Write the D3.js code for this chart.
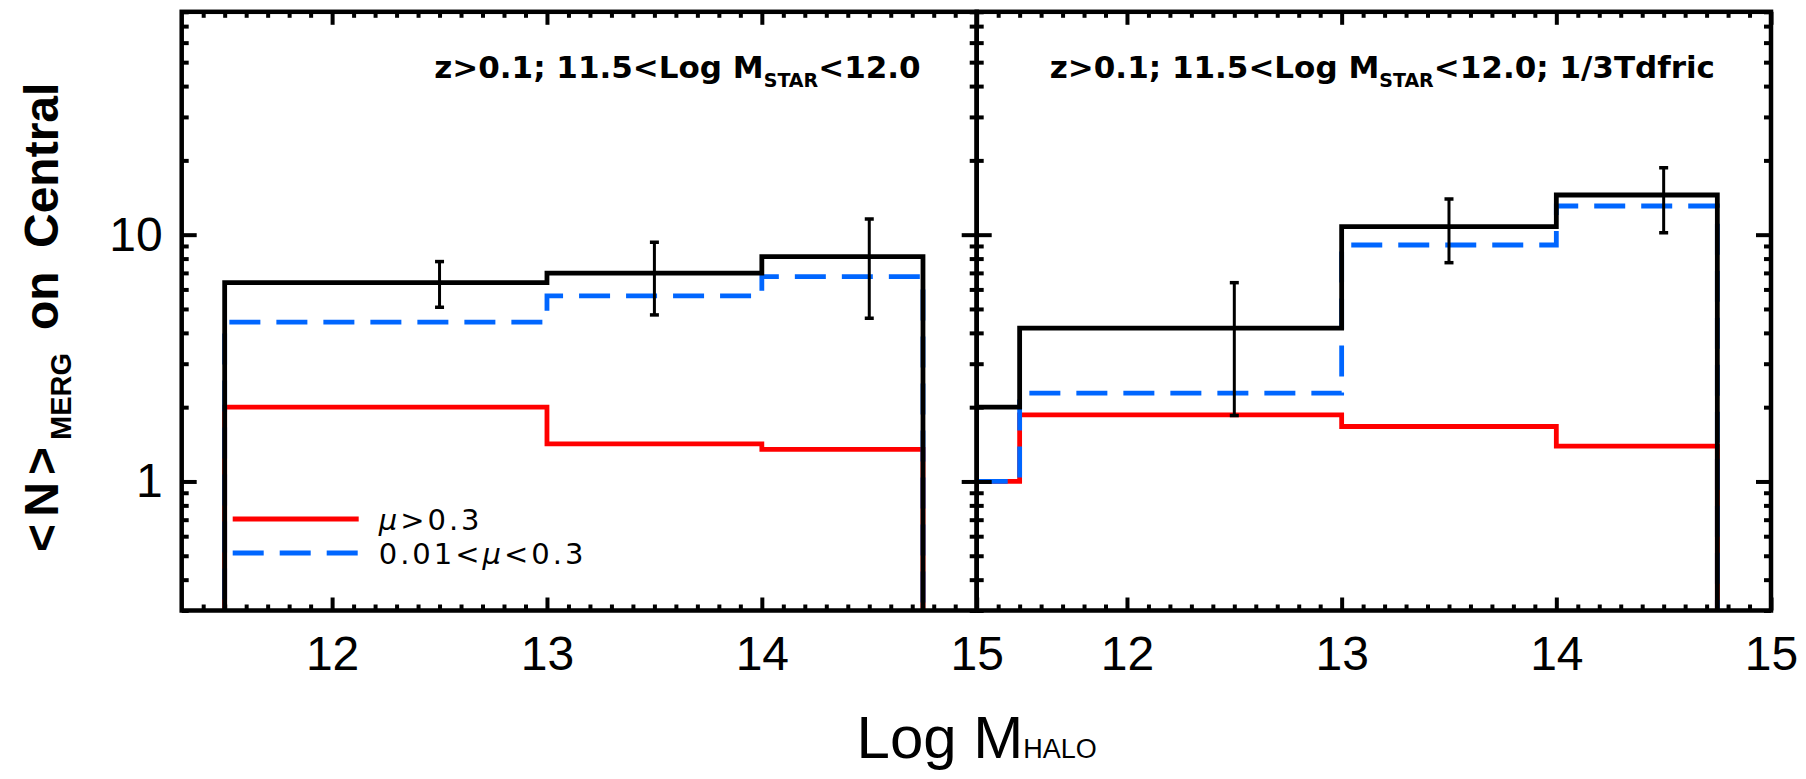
<!DOCTYPE html>
<html>
<head>
<meta charset="utf-8">
<script src="https://cdn.jsdelivr.net/npm/d3@7"></script>
<style>
  body { margin: 0; background: #fff; }
  svg { display: block; }
</style>
</head>
<body>
<svg id="chart" width="1806" height="779"></svg>
<script>
// ---- data -------------------------------------------------------------
// Bin edges in Log M_halo (the first edge is the left limit of each panel)
const binEdges = [11.3, 11.5, 13.0, 14.0, 14.75, 15.0];

// <N>_merg on central per bin; null = empty bin
const leftTotal  = [null, 6.39, 6.98, 8.15, null];
const leftMajor  = [null, 2.00, 1.42, 1.35, null];
const leftMinor  = [null, 4.42, 5.65, 6.76, null];
const rightTotal = [2.00, 4.18, 10.78, 14.48, null];
const rightMajor = [1.00, 1.86, 1.67, 1.39, null];
const rightMinor = [1.00, 2.28, 9.08, 13.07, null];

// Error bars on the total counts
const errX         = [12.5, 13.5, 14.5];
const leftErrLow   = [5.08, 4.73, 4.59];
const leftErrHigh  = [7.78, 9.31, 11.58];
const rightErrLow  = [1.85, 7.70, 10.19];
const rightErrHigh = [6.39, 13.95, 18.67];

const xTickValues = [12, 13, 14, 15];
const yTickValues = [1, 10];
const yDomain = [0.3, 80];

const titlePrefix = "z>0.1; 11.5<Log M";
const titleSub = "STAR";
const titleSuffixes = ["<12.0", "<12.0; 1/3Tdfric"];
const legendLabels = ["μ>0.3", "0.01<μ<0.3"];

// ---- layout & style -----------------------------------------------------
const SANS = "'Liberation Sans', Arial, sans-serif";
const DEJA = "'DejaVu Sans', sans-serif";
const RED = "#ff0000", BLUE = "#0066ff", BLACK = "#000";
const panelBoxes = [[181.7, 976.7], [976.7, 1771]];
const yTop = 11.8, yBot = 610.5;

const svg = d3.select("#chart");
const y = d3.scaleLog().domain(yDomain).range([yBot, yTop]);

// logarithmic minor ticks
const yMinor = [];
[0.1, 1, 10].forEach(dec => {
  for (let k = 2; k <= 9; k++) {
    const v = +(k * dec).toFixed(3);
    if (v >= yDomain[0] && v <= yDomain[1]) yMinor.push(v);
  }
});
const xMinor = d3.range(114, 150).filter(i => i % 10 !== 0).map(i => i / 10);

const panels = [
  { total: leftTotal, major: leftMajor, minor: leftMinor,
    errLow: leftErrLow, errHigh: leftErrHigh, suffix: titleSuffixes[0], yLabels: true, legend: true },
  { total: rightTotal, major: rightMajor, minor: rightMinor,
    errLow: rightErrLow, errHigh: rightErrHigh, suffix: titleSuffixes[1], yLabels: false, legend: false }
];

function stepPoints(vals) {
  const pts = [];
  vals.forEach((v, k) => {
    pts.push([binEdges[k], v]);
    pts.push([binEdges[k + 1], v]);
  });
  return pts;
}

function styleAxis(sel, labels) {
  sel.select(".domain").remove();
  sel.selectAll(".tick line").attr("stroke", BLACK).attr("stroke-width", 4);
  sel.attr("font-family", SANS).attr("font-size", 48);
  sel.selectAll(".tick text").attr("fill", BLACK);
  if (!labels) sel.selectAll(".tick text").remove();
}

panels.forEach((p, i) => {
  const [x0, x1] = panelBoxes[i];
  const x = d3.scaleLinear().domain([binEdges[0], binEdges[binEdges.length - 1]]).range([x0, x1]);
  const g = svg.append("g");

  const clipId = "plotclip" + i;
  svg.append("clipPath").attr("id", clipId)
    .append("rect").attr("x", x0).attr("y", yTop)
    .attr("width", x1 - x0).attr("height", yBot - yTop);

  const plot = g.append("g").attr("clip-path", `url(#${clipId})`);
  const below = yBot + 40;
  const line = d3.line()
    .x(d => x(d[0]))
    .y(d => d[1] == null ? below : y(d[1]));

  plot.append("path").datum(stepPoints(p.major)).attr("d", line)
    .attr("fill", "none").attr("stroke", RED).attr("stroke-width", 4.8);
  plot.append("path").datum(stepPoints(p.minor)).attr("d", line)
    .attr("fill", "none").attr("stroke", BLUE).attr("stroke-width", 4.8)
    .attr("stroke-dasharray", "31,16");
  plot.append("path").datum(stepPoints(p.total)).attr("d", line)
    .attr("fill", "none").attr("stroke", BLACK).attr("stroke-width", 4.8);

  // error bars
  const eb = plot.append("g").attr("stroke", BLACK);
  errX.forEach((xv, k) => {
    const cx = x(xv), yl = y(p.errLow[k]), yh = y(p.errHigh[k]);
    eb.append("line").attr("x1", cx).attr("x2", cx).attr("y1", yl).attr("y2", yh).attr("stroke-width", 3);
    [yl, yh].forEach(yy => eb.append("line")
      .attr("x1", cx - 4.5).attr("x2", cx + 4.5).attr("y1", yy).attr("y2", yy).attr("stroke-width", 3.5));
  });

  // axes, ticks inward on all four sides
  g.append("g").attr("transform", `translate(0,${yBot})`)
    .call(d3.axisBottom(x).tickValues(xTickValues).tickSize(-13).tickPadding(25).tickFormat(d3.format("d")))
    .call(s => styleAxis(s, true));
  g.append("g").attr("transform", `translate(0,${yBot})`)
    .call(d3.axisBottom(x).tickValues(xMinor).tickSize(-6).tickFormat(""))
    .call(s => styleAxis(s, false));
  g.append("g").attr("transform", `translate(0,${yTop})`)
    .call(d3.axisTop(x).tickValues(xTickValues).tickSize(-13))
    .call(s => styleAxis(s, false));
  g.append("g").attr("transform", `translate(0,${yTop})`)
    .call(d3.axisTop(x).tickValues(xMinor).tickSize(-6))
    .call(s => styleAxis(s, false));
  g.append("g").attr("transform", `translate(${x0},0)`)
    .call(d3.axisLeft(y).tickValues(yTickValues).tickSize(-15).tickPadding(19).tickFormat(d3.format("d")))
    .call(s => styleAxis(s, p.yLabels));
  g.append("g").attr("transform", `translate(${x0},0)`)
    .call(d3.axisLeft(y).tickValues(yMinor).tickSize(-7))
    .call(s => styleAxis(s, false));
  g.append("g").attr("transform", `translate(${x1},0)`)
    .call(d3.axisRight(y).tickValues(yTickValues).tickSize(-15))
    .call(s => styleAxis(s, false));
  g.append("g").attr("transform", `translate(${x1},0)`)
    .call(d3.axisRight(y).tickValues(yMinor).tickSize(-7))
    .call(s => styleAxis(s, false));

  g.append("rect").attr("x", x0).attr("y", yTop).attr("width", x1 - x0).attr("height", yBot - yTop)
    .attr("fill", "none").attr("stroke", BLACK).attr("stroke-width", 4.5);

  // panel title
  const t = g.append("text").attr("x", x1 - 56).attr("y", 78)
    .attr("text-anchor", "end").attr("font-family", DEJA).attr("font-weight", "bold")
    .attr("font-size", 31).attr("fill", BLACK);
  t.append("tspan").text(titlePrefix);
  t.append("tspan").attr("font-size", 19).attr("dy", 9).text(titleSub);
  t.append("tspan").attr("dy", -9).text(p.suffix);

  // legend
  if (p.legend) {
    const lg = g.append("g").attr("transform", `translate(${x0},0)`);
    const rows = [{ y: 519, color: RED, dash: null }, { y: 553, color: BLUE, dash: "31,16" }];
    rows.forEach((r, k) => {
      lg.append("line").attr("x1", 51).attr("x2", 177).attr("y1", r.y).attr("y2", r.y)
        .attr("stroke", r.color).attr("stroke-width", 5).attr("stroke-dasharray", r.dash);
      const tx = lg.append("text").attr("x", 197).attr("y", r.y + 11)
        .attr("font-family", DEJA).attr("font-size", 29).attr("letter-spacing", 3).attr("fill", BLACK);
      legendLabels[k].split(/(μ)/).forEach(part => {
        if (!part) return;
        const ts = tx.append("tspan").text(part);
        if (part === "μ") ts.attr("font-style", "italic");
      });
    });
  }
});

// axis titles
const xl = svg.append("text").attr("x", panelBoxes[0][1]).attr("y", 758)
  .attr("text-anchor", "middle").attr("font-family", SANS).attr("font-size", 60).attr("fill", BLACK);
xl.append("tspan").text("Log M");
xl.append("tspan").attr("font-size", 27).text("HALO");

// vertical title, read bottom to top starting just above the "1" tick
const yl = svg.append("text").attr("transform", "translate(57.5,552) rotate(-90)")
  .attr("font-family", SANS).attr("font-weight", "bold")
  .attr("font-size", 48).attr("fill", BLACK);
yl.append("tspan").attr("x", 0).attr("textLength", 105).attr("lengthAdjust", "spacing").text("<N>");
yl.append("tspan").attr("x", 112).attr("dy", 13.5).attr("font-size", 29).text("MERG");
yl.append("tspan").attr("x", 222).attr("dy", -13.5).text("on");
yl.append("tspan").attr("x", 304).text("Central");
</script>
</body>
</html>
